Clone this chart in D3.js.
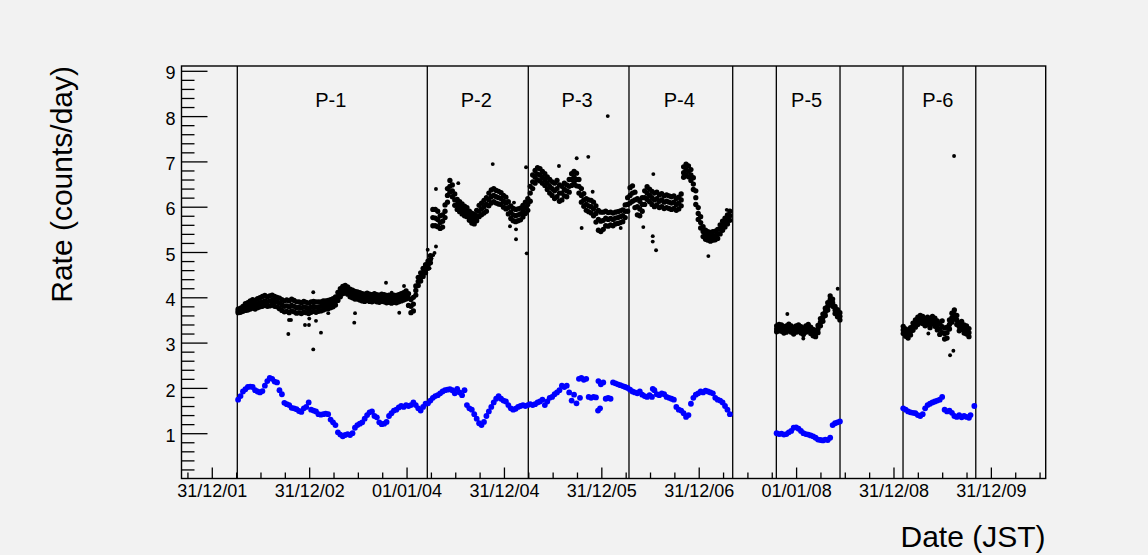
<!DOCTYPE html>
<html><head><meta charset="utf-8">
<script src="https://cdn.jsdelivr.net/npm/d3@7"></script>
<style>
body{margin:0;background:#f2f2f2}
svg{display:block}
text{font-family:"Liberation Sans",Arial,Helvetica,sans-serif}
</style>
</head><body>
<svg id="chart" width="1148" height="555"></svg>
<script>
// ---------- axis / label data ----------
const xDomain = [2001.689, 2010.563];
const yDomain = [0, 9.106];
const xTickYears = [2002, 2003, 2004, 2005, 2006, 2007, 2008, 2009, 2010];
const xTickLabels = ["31/12/01", "31/12/02", "01/01/04", "31/12/04", "31/12/05", "31/12/06", "01/01/08", "31/12/08", "31/12/09"];
const yTickValues = [1, 2, 3, 4, 5, 6, 7, 8, 9];
const periodBounds = [2002.262, 2004.213, 2005.250, 2006.284, 2007.349, 2007.797, 2008.451, 2009.098, 2009.845];
const periodNames = ["P-1", "P-2", "P-3", "P-4", "P-5", "P-6"];
const periodSpans = [[0, 1], [1, 2], [2, 3], [3, 4], [5, 6], [7, 8]];
const sampleStep = 0.025; // years between samples

// ---------- P-1 ----------
const p1Start = 2002.27;
const p1Black = [
[3.66,3.70,3.74],[3.67,3.71,3.76],[3.69,3.74,3.80],[3.71,3.78,3.86],[3.72,3.80,3.88],
[3.74,3.83,3.92],[3.76,3.85,3.95],[3.74,3.84,3.93],[3.77,3.86,3.97],[3.79,3.88,3.99],
[3.80,3.90,4.02],[3.82,3.92,4.04],[3.80,3.90,4.01],[3.81,3.92,4.03],[3.83,3.93,4.05],
[3.80,3.91,4.02],[3.79,3.90,4.00],[3.75,3.87,3.98],[3.71,3.83,3.95],[3.68,3.80,3.92],
[3.69,3.81,3.94],[3.66,3.79,3.92],[3.70,3.82,3.96],[3.68,3.80,3.93],[3.65,3.77,3.90],
[3.66,3.78,3.90],[3.64,3.76,3.88],[3.67,3.79,3.91],[3.66,3.77,3.89],[3.64,3.75,3.87],
[3.67,3.78,3.90],[3.69,3.80,3.91],[3.67,3.78,3.90],[3.69,3.79,3.90],[3.70,3.80,3.90],
[3.72,3.82,3.92],[3.74,3.83,3.92],[3.75,3.84,3.93],[3.77,3.86,3.95],[3.79,3.88,3.97],
[3.83,3.92,4.01],[3.93,4.02,4.11],[4.01,4.10,4.19],[4.08,4.16,4.24],[4.10,4.18,4.26],
[4.07,4.15,4.23],[4.01,4.10,4.18],[3.99,4.08,4.16],[3.96,4.05,4.13],[3.96,4.04,4.12],
[3.94,4.02,4.10],[3.92,4.00,4.08],[3.91,3.99,4.07],[3.93,4.01,4.09],[3.91,3.99,4.07],
[3.90,3.98,4.06],[3.92,4.00,4.08],[3.90,3.98,4.06],[3.89,3.97,4.05],[3.91,3.99,4.07],
[3.90,3.98,4.06],[3.88,3.96,4.04],[3.89,3.97,4.05],[3.87,3.95,4.03],[3.89,3.97,4.05],
[3.88,3.96,4.04],[3.90,3.98,4.06],[3.92,4.00,4.08],[3.94,4.02,4.10],[3.96,4.05,4.14],
[3.82,3.98,4.08],[3.66,3.80,3.95],[3.70,3.85,4.00],[4.05,4.15,4.25],[4.26,4.35,4.44],
[4.36,4.45,4.54],[4.46,4.55,4.64],[4.54,4.62,4.72]];
const p1Blue = [
1.74,1.82,1.92,1.97,2.02,2.03,2.02,1.95,1.92,1.90,
1.93,2.05,2.15,2.22,2.20,2.14,2.12,1.95,1.86,1.67,
1.64,1.62,1.56,1.55,1.53,1.49,1.47,1.55,1.58,1.68,
1.52,1.50,1.48,1.42,1.41,1.42,1.43,1.42,1.30,1.24,
1.18,1.02,0.97,0.93,0.96,0.98,0.96,1.00,1.12,1.18,
1.21,1.24,1.32,1.40,1.46,1.48,1.38,1.35,1.24,1.20,
1.21,1.25,1.38,1.44,1.50,1.52,1.57,1.60,1.58,1.62,
1.60,1.62,1.68,1.62,1.55,1.50,1.58,1.65];

// ---------- P-2 .. P-4 ----------
const p24Start = 2004.22;
const p24Black = [
[4.64,4.72,4.80],[4.76,4.84,4.92],[5.58,5.76,5.94],[5.58,5.75,5.94],[5.56,5.72,5.90],
[5.52,5.65,5.80],[5.55,5.68,5.82],[5.76,5.90,6.04],[6.10,6.25,6.40],[6.32,6.45,6.58],
[6.22,6.35,6.48],[6.03,6.15,6.28],[5.94,6.05,6.16],[5.89,6.00,6.11],[5.84,5.95,6.06],
[5.80,5.90,6.01],[5.78,5.88,5.98],[5.70,5.80,5.90],[5.64,5.75,5.86],[5.62,5.72,5.83],
[5.69,5.80,5.92],[5.78,5.90,6.03],[5.82,5.95,6.08],[5.86,6.00,6.14],[5.90,6.05,6.20],
[6.02,6.15,6.30],[6.08,6.22,6.37],[6.11,6.25,6.40],[6.08,6.22,6.36],[6.06,6.20,6.34],
[6.05,6.18,6.31],[5.99,6.12,6.25],[5.95,6.08,6.21],[5.84,5.98,6.11],[5.74,5.88,6.02],
[5.69,5.82,5.96],[5.67,5.80,5.94],[5.69,5.82,5.95],[5.71,5.84,5.97],[5.77,5.90,6.03],
[5.85,5.98,6.10],[5.92,6.05,6.18],[6.12,6.30,6.45],[6.40,6.55,6.70],[6.52,6.65,6.80],
[6.59,6.72,6.86],[6.57,6.70,6.84],[6.52,6.65,6.78],[6.47,6.60,6.73],[6.38,6.52,6.66],
[6.30,6.45,6.60],[6.25,6.40,6.55],[6.18,6.35,6.52],[6.22,6.40,6.58],[6.12,6.30,6.48],
[6.15,6.30,6.45],[6.24,6.38,6.52],[6.22,6.35,6.48],[6.32,6.45,6.60],[6.47,6.60,6.73],
[6.52,6.65,6.78],[6.46,6.60,6.74],[6.30,6.45,6.60],[6.10,6.25,6.40],[6.01,6.15,6.29],
[5.92,6.05,6.18],[5.89,6.02,6.15],[5.86,6.00,6.14],[5.80,5.95,6.10],[5.66,5.85,6.02],
[5.48,5.72,5.92],[5.45,5.68,5.88],[5.50,5.70,5.88],[5.58,5.75,5.90],[5.57,5.72,5.87],
[5.60,5.74,5.88],[5.58,5.72,5.86],[5.62,5.75,5.88],[5.63,5.76,5.89],[5.65,5.78,5.91],
[5.67,5.80,5.93],[5.76,5.90,6.04],[5.90,6.05,6.20],[6.08,6.25,6.42],[6.12,6.30,6.46],
[5.98,6.15,6.32],[5.82,6.00,6.18],[5.80,5.95,6.12],[5.90,6.05,6.20],[6.05,6.20,6.35],
[6.16,6.30,6.44],[6.11,6.25,6.39],[6.05,6.20,6.34],[6.00,6.15,6.30],[6.04,6.18,6.32],
[5.98,6.12,6.26],[6.00,6.15,6.29],[5.96,6.10,6.24],[5.98,6.12,6.26],[5.96,6.10,6.24],
[5.94,6.08,6.22],[5.96,6.10,6.24],[5.92,6.05,6.18],[5.95,6.08,6.21],[6.02,6.15,6.28],
[6.65,6.75,6.88],[6.70,6.82,6.94],[6.66,6.78,6.90],[6.58,6.70,6.82],[6.38,6.50,6.64],
[6.05,6.20,6.35],[5.72,5.85,5.98],[5.53,5.65,5.78],[5.34,5.45,5.56],[5.28,5.38,5.48],
[5.26,5.35,5.45],[5.24,5.33,5.43],[5.26,5.35,5.45],[5.27,5.36,5.46],[5.30,5.40,5.50],
[5.40,5.50,5.60],[5.48,5.58,5.68],[5.55,5.65,5.75],[5.62,5.72,5.82],[5.70,5.80,5.90]];
const p24Blue = [
1.66,1.72,1.78,1.82,1.84,1.88,1.92,1.95,1.96,1.97,
1.95,1.88,1.98,1.90,1.84,1.95,1.62,1.55,1.52,1.42,
1.32,1.22,1.18,1.25,1.38,1.48,1.58,1.68,1.76,1.82,
1.76,1.72,1.70,1.62,1.55,1.52,1.54,1.58,1.60,1.62,
1.60,1.62,1.64,1.62,1.64,1.68,1.70,1.74,1.62,1.70,
1.78,1.80,1.86,1.90,1.95,2.05,2.02,2.05,1.90,1.72,
1.85,1.66,2.20,2.22,2.18,2.20,1.80,1.78,1.80,1.79,
2.15,2.08,2.12,1.76,1.78,1.76,2.12,2.10,2.08,2.06,
2.04,2.02,2.00,1.96,1.92,1.90,1.88,1.92,1.85,1.82,
1.80,1.84,1.80,1.95,1.86,1.84,1.88,1.86,1.80,1.78,
1.76,1.74,1.58,1.52,1.50,1.44,1.36,1.40,1.65,1.78,
1.85,1.88,1.92,1.90,1.94,1.92,1.90,1.88,1.78,1.74,
1.72,1.68,1.60,1.52,1.42];

// ---------- P-5 ----------
const p5Start = 2007.80;
const p5Black = [
[3.24,3.30,3.37],[3.26,3.33,3.40],[3.25,3.32,3.39],[3.21,3.28,3.35],[3.23,3.30,3.37],
[3.27,3.34,3.41],[3.23,3.30,3.37],[3.19,3.26,3.33],[3.23,3.30,3.37],[3.25,3.32,3.39],
[3.21,3.28,3.35],[3.18,3.25,3.32],[3.23,3.30,3.37],[3.26,3.33,3.40],[3.20,3.27,3.34],
[3.15,3.22,3.29],[3.13,3.20,3.27],[3.22,3.30,3.38],[3.37,3.45,3.53],[3.47,3.55,3.63],
[3.60,3.68,3.76],[3.72,3.80,3.88],[3.87,3.95,4.03],[3.80,3.88,3.96],[3.64,3.72,3.80],
[3.57,3.65,3.73],[3.50,3.58,3.66]];
const p5Blue = [
1.00,0.98,0.99,0.97,0.98,1.02,1.05,1.12,1.13,1.10,
1.05,1.00,0.98,0.97,0.95,0.93,0.90,0.86,0.85,0.84,
0.86,0.85,0.90,1.18,1.22,1.24,1.26];

// ---------- P-6 ----------
const p6Start = 2009.10;
const p6Black = [
[3.20,3.28,3.36],[3.14,3.22,3.30],[3.10,3.18,3.26],[3.17,3.25,3.33],[3.27,3.35,3.43],
[3.34,3.42,3.50],[3.40,3.48,3.56],[3.44,3.52,3.60],[3.42,3.50,3.58],[3.37,3.45,3.53],
[3.40,3.48,3.56],[3.33,3.42,3.51],[3.42,3.50,3.58],[3.36,3.45,3.54],[3.28,3.38,3.48],
[3.18,3.30,3.42],[3.22,3.35,3.48],[3.08,3.20,3.32],[3.10,3.22,3.34],[3.30,3.40,3.50],
[3.45,3.55,3.65],[3.52,3.62,3.72],[3.40,3.50,3.60],[3.26,3.35,3.44],[3.29,3.38,3.47],
[3.21,3.30,3.39],[3.19,3.28,3.37],[3.13,3.22,3.31]];
const p6Blue = [
1.55,1.52,1.48,1.46,1.45,1.44,1.40,1.38,1.42,1.55,
1.62,1.65,1.68,1.70,1.72,1.74,1.80,1.52,1.48,1.50,
1.45,1.38,1.36,1.40,1.35,1.38,1.36,1.34];

// ---------- isolated points [year, rate] ----------
const blackOutliers = [
[2002.786,3.19],[2002.793,3.50],[2002.813,3.50],[2002.957,3.39],[2002.998,3.39],
[2003.001,3.53],[2003.070,3.48],[2003.042,2.85],[2003.121,3.22],[2003.042,4.11],
[2003.196,3.65],[2003.471,3.65],[2003.463,3.44],[2003.789,4.32],[2003.847,4.10],
[2003.925,3.66],[2003.974,4.25],
[2004.225,4.70],[2004.236,4.64],[2004.241,4.80],[2004.256,4.86],[2004.272,4.93],[2004.287,4.98],
[2004.302,6.39],[2004.217,5.05],[2004.302,5.12],[2004.531,6.52],[2004.885,6.94],
[2005.103,6.09],[2005.062,5.57],[2005.124,5.50],[2005.124,5.28],[2005.234,4.97],[2005.227,6.87],
[2005.747,7.07],[2005.866,7.10],[2005.565,6.90],[2005.911,6.33],[2005.798,5.53],
[2006.199,5.53],[2006.066,8.00],
[2006.534,6.72],[2006.431,5.55],[2006.528,5.35],[2006.528,5.23],[2006.562,5.04],
[2007.099,4.91],[2007.288,5.93],
[2007.910,3.63],[2008.427,4.19],[2008.074,3.09],
[2009.622,7.12],[2009.581,2.72],[2009.615,2.82],[2009.358,3.20]];
const blueExtras = [
[2005.966,1.50],[2005.987,1.55],[2005.781,1.78],[2006.528,1.98],
[2009.791,1.40],[2009.830,1.60]];

// ---------- drawing ----------
const frame = {l: 181.5, r: 1045.7, t: 66, b: 478.5};
const svg = d3.select("#chart");
svg.append("rect").attr("width", 1148).attr("height", 555).attr("fill", "#f2f2f2");

const x = d3.scaleLinear().domain(xDomain).range([frame.l, frame.r]);
const y = d3.scaleLinear().domain(yDomain).range([frame.b, frame.t]);

function styleAxis(g, fontSize) {
  g.select(".domain").remove();
  g.selectAll(".tick line").attr("stroke", "#000").attr("stroke-width", 1.3);
  g.selectAll("text").attr("fill", "#000").attr("font-size", fontSize)
    .attr("font-family", '"Liberation Sans", Arial, Helvetica, sans-serif');
}

// Y axis
const yMinor = d3.range(1, 46).map(i => i * 0.2).filter(v => Math.abs(v - Math.round(v)) > 1e-6);
svg.append("g").attr("transform", `translate(${frame.l},0)`)
  .call(d3.axisLeft(y).tickValues(yMinor).tickSize(-13).tickSizeOuter(0).tickFormat(""))
  .call(g => styleAxis(g, 18));
svg.append("g").attr("transform", `translate(${frame.l},0)`)
  .call(d3.axisLeft(y).tickValues(yTickValues).tickSize(-26).tickSizeOuter(0).tickPadding(6).tickFormat(d3.format("d")))
  .call(g => styleAxis(g, 18))
  .call(g => g.selectAll("text").attr("dy", "0.45em"));

// X axis
const xMinor = d3.range(0, 36).map(i => 2001.75 + i * 0.25).filter(v => v < xDomain[1] && Math.abs(v - Math.round(v)) > 1e-6);
svg.append("g").attr("transform", `translate(0,${frame.b})`)
  .call(d3.axisBottom(x).tickValues(xMinor).tickSize(-6).tickSizeOuter(0).tickFormat(""))
  .call(g => styleAxis(g, 18));
svg.append("g").attr("transform", `translate(0,${frame.b})`)
  .call(d3.axisBottom(x).tickValues(xTickYears).tickSize(-11).tickSizeOuter(0).tickPadding(6)
    .tickFormat((d, i) => xTickLabels[i]))
  .call(g => styleAxis(g, 18));

// Frame
svg.append("rect").attr("x", frame.l).attr("y", frame.t)
  .attr("width", frame.r - frame.l).attr("height", frame.b - frame.t)
  .attr("fill", "none").attr("stroke", "#000").attr("stroke-width", 1.4);

// Period boundaries
svg.append("g").selectAll("line").data(periodBounds).join("line")
  .attr("x1", d => x(d)).attr("x2", d => x(d))
  .attr("y1", frame.t).attr("y2", frame.b)
  .attr("stroke", "#000").attr("stroke-width", 1.3);

// Period labels
svg.append("g").selectAll("text").data(periodSpans).join("text")
  .attr("x", d => (x(periodBounds[d[0]]) + x(periodBounds[d[1]])) / 2 - 1.5)
  .attr("y", 107)
  .attr("text-anchor", "middle").attr("font-size", 20).attr("fill", "#000")
  .text((d, i) => periodNames[i]);

// Data points
const segments = [
  {start: p1Start, black: p1Black, blue: p1Blue},
  {start: p24Start, black: p24Black, blue: p24Blue},
  {start: p5Start, black: p5Black, blue: p5Blue},
  {start: p6Start, black: p6Black, blue: p6Blue}
];
const bandPts = [], bluePts = [];
segments.forEach(s => {
  s.black.forEach((trip, i) => trip.forEach(v => bandPts.push([s.start + i * sampleStep, v])));
  s.blue.forEach((v, i) => { if (v != null) bluePts.push([s.start + i * sampleStep, v]); });
});
blueExtras.forEach(p => bluePts.push(p));

svg.append("g").selectAll("circle").data(bandPts).join("circle")
  .attr("cx", d => x(d[0])).attr("cy", d => y(d[1])).attr("r", 2.65).attr("fill", "#000");
svg.append("g").selectAll("circle").data(blackOutliers).join("circle")
  .attr("cx", d => x(d[0])).attr("cy", d => y(d[1])).attr("r", 1.95).attr("fill", "#000");
svg.append("g").selectAll("circle").data(bluePts).join("circle")
  .attr("cx", d => x(d[0])).attr("cy", d => y(d[1])).attr("r", 2.9).attr("fill", "#0000ff");

// Axis titles
svg.append("text").attr("x", 1045.5).attr("y", 547).attr("text-anchor", "end")
  .attr("font-size", 30).attr("fill", "#000").text("Date (JST)");
svg.append("text").attr("transform", "translate(72,66) rotate(-90)").attr("text-anchor", "end")
  .attr("font-size", 30).attr("fill", "#000").text("Rate (counts/day)");
</script>
</body></html>
